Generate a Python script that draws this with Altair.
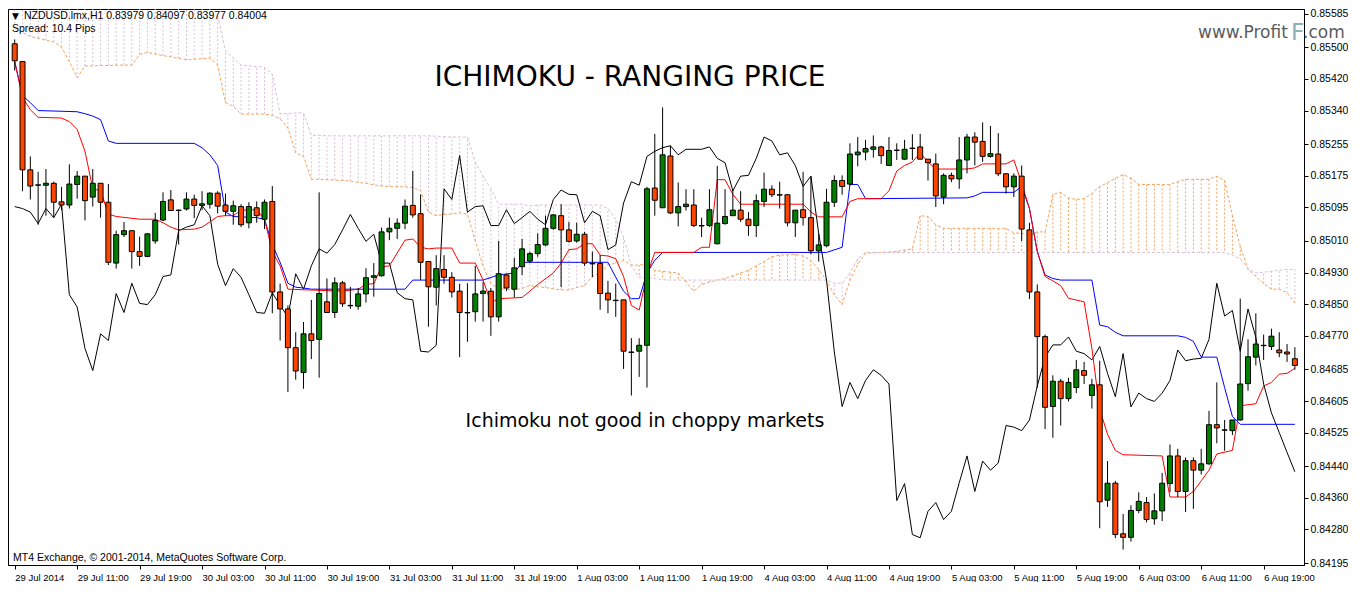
import altair as alt
import pandas as pd

# ---------------- data (NZDUSD H1) ----------------
opens = [0.85509, 0.85464, 0.85190, 0.85152, 0.85151, 0.85156, 0.85109, 0.85101, 0.85153, 0.85174,
         0.85121, 0.85156, 0.85108, 0.84954, 0.85026, 0.85036, 0.84983, 0.84971, 0.85010, 0.85063,
         0.85114, 0.85088, 0.85091, 0.85116, 0.85100, 0.85103, 0.85131, 0.85101, 0.85085, 0.85097,
         0.85056, 0.85094, 0.85065, 0.85110, 0.84881, 0.84838, 0.84740, 0.84677, 0.84775, 0.84761,
         0.84856, 0.84829, 0.84904, 0.84847, 0.84845, 0.84876, 0.84918, 0.84922, 0.85033, 0.85042,
         0.85055, 0.85100, 0.85079, 0.84958, 0.84893, 0.84938, 0.84918, 0.84883, 0.84829, 0.84831,
         0.84877, 0.84883, 0.84818, 0.84924, 0.84888, 0.84945, 0.84959, 0.84978, 0.85000, 0.85042,
         0.85074, 0.85038, 0.85010, 0.85027, 0.84953, 0.84953, 0.84878, 0.84860, 0.84861, 0.84729,
         0.84731, 0.84746, 0.85144, 0.85094, 0.85225, 0.85081, 0.85097, 0.85101, 0.85049, 0.85049,
         0.85003, 0.85054, 0.85074, 0.85088, 0.85065, 0.85049, 0.85110, 0.85141, 0.85127, 0.85127,
         0.85056, 0.85089, 0.85069, 0.84985, 0.84998, 0.85108, 0.85163, 0.85154, 0.85228, 0.85235,
         0.85242, 0.85248, 0.85201, 0.85240, 0.85217, 0.85245, 0.85248, 0.85217, 0.85205, 0.85121,
         0.85176, 0.85167, 0.85215, 0.85273, 0.85262, 0.85224, 0.85230, 0.85180, 0.85147, 0.85174,
         0.85038, 0.84881, 0.84768, 0.84591, 0.84655, 0.84611, 0.84639, 0.84682, 0.84619, 0.84646,
         0.84354, 0.84397, 0.84269, 0.84260, 0.84328, 0.84348, 0.84307, 0.84327, 0.84396, 0.84466,
         0.84376, 0.84454, 0.84430, 0.84446, 0.84545, 0.84532, 0.84530, 0.84557, 0.84649, 0.84716,
         0.84746, 0.84743, 0.84734, 0.84729, 0.84712]
highs = [0.85520, 0.85464, 0.85224, 0.85185, 0.85192, 0.85160, 0.85147, 0.85204, 0.85187, 0.85174,
         0.85192, 0.85156, 0.85154, 0.85036, 0.85058, 0.85036, 0.85021, 0.85030, 0.85081, 0.85133,
         0.85139, 0.85090, 0.85133, 0.85127, 0.85136, 0.85133, 0.85136, 0.85130, 0.85112, 0.85103,
         0.85108, 0.85110, 0.85115, 0.85149, 0.84902, 0.84847, 0.84779, 0.84805, 0.84861, 0.85133,
         0.84915, 0.84918, 0.84909, 0.84894, 0.84891, 0.84941, 0.84954, 0.85044, 0.85069, 0.85067,
         0.85115, 0.85187, 0.85128, 0.84958, 0.84974, 0.84974, 0.84931, 0.84902, 0.84903, 0.84947,
         0.84906, 0.84891, 0.85010, 0.84927, 0.84967, 0.85015, 0.84983, 0.85029, 0.85074, 0.85078,
         0.85103, 0.85058, 0.85056, 0.85033, 0.84983, 0.84974, 0.84909, 0.84902, 0.84861, 0.84764,
         0.84764, 0.85147, 0.85281, 0.85348, 0.85251, 0.85158, 0.85141, 0.85141, 0.85069, 0.85141,
         0.85200, 0.85141, 0.85139, 0.85136, 0.85083, 0.85128, 0.85183, 0.85151, 0.85160, 0.85127,
         0.85088, 0.85185, 0.85174, 0.85029, 0.85142, 0.85176, 0.85176, 0.85257, 0.85273, 0.85266,
         0.85277, 0.85251, 0.85273, 0.85257, 0.85266, 0.85280, 0.85281, 0.85217, 0.85231, 0.85181,
         0.85183, 0.85273, 0.85281, 0.85285, 0.85310, 0.85301, 0.85283, 0.85181, 0.85181, 0.85201,
         0.85056, 0.84900, 0.84773, 0.84670, 0.84661, 0.84664, 0.84709, 0.84704, 0.84661, 0.84707,
         0.84453, 0.84403, 0.84319, 0.84341, 0.84374, 0.84362, 0.84371, 0.84423, 0.84495, 0.84484,
         0.84462, 0.84462, 0.84484, 0.84580, 0.84652, 0.84557, 0.84557, 0.84864, 0.84761, 0.84827,
         0.84773, 0.84788, 0.84779, 0.84749, 0.84741]
lows = [0.85441, 0.85136, 0.85115, 0.85051, 0.85074, 0.85069, 0.85088, 0.85092, 0.85117, 0.85062,
        0.85097, 0.85069, 0.84949, 0.84940, 0.85020, 0.84940, 0.84947, 0.84969, 0.85003, 0.85060,
        0.85087, 0.85001, 0.85087, 0.85068, 0.85088, 0.85092, 0.85080, 0.85074, 0.85051, 0.85045,
        0.85042, 0.85056, 0.85040, 0.84827, 0.84758, 0.84628, 0.84659, 0.84636, 0.84711, 0.84664,
        0.84829, 0.84815, 0.84843, 0.84838, 0.84836, 0.84854, 0.84869, 0.84920, 0.85012, 0.85015,
        0.85040, 0.85069, 0.84911, 0.84793, 0.84847, 0.84902, 0.84867, 0.84716, 0.84755, 0.84806,
        0.84806, 0.84770, 0.84806, 0.84883, 0.84867, 0.84924, 0.84954, 0.84970, 0.84997, 0.85038,
        0.84893, 0.85006, 0.85006, 0.84947, 0.84918, 0.84836, 0.84827, 0.84818, 0.84686, 0.84619,
        0.84666, 0.84639, 0.85074, 0.85094, 0.85078, 0.85047, 0.85087, 0.85045, 0.85020, 0.85045,
        0.85001, 0.85051, 0.85074, 0.85058, 0.85023, 0.85020, 0.85096, 0.85121, 0.85092, 0.85047,
        0.85020, 0.85049, 0.84976, 0.84958, 0.84994, 0.85096, 0.85127, 0.85150, 0.85199, 0.85214,
        0.85221, 0.85205, 0.85201, 0.85215, 0.85215, 0.85215, 0.85217, 0.85163, 0.85096, 0.85103,
        0.85159, 0.85142, 0.85181, 0.85201, 0.85210, 0.85221, 0.85174, 0.85130, 0.85121, 0.85010,
        0.84863, 0.84639, 0.84534, 0.84512, 0.84543, 0.84604, 0.84625, 0.84648, 0.84586, 0.84283,
        0.84337, 0.84258, 0.84229, 0.84249, 0.84321, 0.84298, 0.84292, 0.84301, 0.84374, 0.84362,
        0.84324, 0.84332, 0.84419, 0.84444, 0.84498, 0.84479, 0.84519, 0.84555, 0.84631, 0.84695,
        0.84709, 0.84734, 0.84716, 0.84704, 0.84684]
closes = [0.85466, 0.85190, 0.85149, 0.85151, 0.85156, 0.85108, 0.85101, 0.85154, 0.85174, 0.85112,
          0.85156, 0.85108, 0.84956, 0.85026, 0.85036, 0.84983, 0.84971, 0.85028, 0.85062, 0.85110,
          0.85087, 0.85087, 0.85116, 0.85100, 0.85104, 0.85131, 0.85098, 0.85085, 0.85099, 0.85051,
          0.85097, 0.85074, 0.85108, 0.84881, 0.84838, 0.84740, 0.84681, 0.84775, 0.84758, 0.84877,
          0.84829, 0.84904, 0.84851, 0.84846, 0.84876, 0.84917, 0.84922, 0.85033, 0.85042, 0.85055,
          0.85098, 0.85076, 0.84956, 0.84894, 0.84940, 0.84918, 0.84881, 0.84829, 0.84828, 0.84876,
          0.84883, 0.84818, 0.84927, 0.84891, 0.84942, 0.84990, 0.84978, 0.85001, 0.85042, 0.85076,
          0.85038, 0.85009, 0.85027, 0.84954, 0.84952, 0.84877, 0.84861, 0.84859, 0.84731, 0.84728,
          0.84746, 0.85142, 0.85113, 0.85228, 0.85081, 0.85097, 0.85103, 0.85049, 0.85048, 0.85089,
          0.85055, 0.85072, 0.85088, 0.85065, 0.85049, 0.85112, 0.85141, 0.85127, 0.85126, 0.85056,
          0.85088, 0.85069, 0.84985, 0.85000, 0.85108, 0.85163, 0.85148, 0.85230, 0.85235, 0.85244,
          0.85248, 0.85226, 0.85239, 0.85239, 0.85242, 0.85244, 0.85217, 0.85208, 0.85124, 0.85176,
          0.85167, 0.85215, 0.85273, 0.85260, 0.85224, 0.85231, 0.85180, 0.85147, 0.85174, 0.85040,
          0.84881, 0.84768, 0.84589, 0.84655, 0.84611, 0.84652, 0.84684, 0.84670, 0.84646, 0.84350,
          0.84397, 0.84267, 0.84260, 0.84328, 0.84351, 0.84305, 0.84327, 0.84397, 0.84466, 0.84376,
          0.84454, 0.84430, 0.84446, 0.84545, 0.84537, 0.84531, 0.84557, 0.84648, 0.84717, 0.84749,
          0.84745, 0.84769, 0.84727, 0.84724, 0.84695]

# Chikou span (black), one value per bar
chikou = [0.85097, 0.85092, 0.85083, 0.85054, 0.85092, 0.85069, 0.85103, 0.84874, 0.84843, 0.84738,
          0.84682, 0.84775, 0.84758, 0.84877, 0.84829, 0.84903, 0.84852, 0.84849, 0.84874, 0.84920,
          0.84924, 0.85036, 0.85045, 0.85051, 0.85099, 0.85074, 0.84951, 0.84897, 0.84940, 0.84918,
          0.84874, 0.84829, 0.84827, 0.84879, 0.84847, 0.84818, 0.84927, 0.84888, 0.84947, 0.84990,
          0.84979, 0.85001, 0.85038, 0.85077, 0.85042, 0.85009, 0.85027, 0.84954, 0.84954, 0.84879,
          0.84864, 0.84861, 0.84731, 0.84729, 0.84746, 0.85142, 0.85115, 0.85226, 0.85083, 0.85097,
          0.85099, 0.85049, 0.85049, 0.85089, 0.85054, 0.85069, 0.85085, 0.85065, 0.85051, 0.85115,
          0.85139, 0.85128, 0.85127, 0.85056, 0.85085, 0.85074, 0.84988, 0.85000, 0.85106, 0.85160,
          0.85151, 0.85224, 0.85237, 0.85246, 0.85251, 0.85228, 0.85242, 0.85242, 0.85242, 0.85248,
          0.85219, 0.85208, 0.85137, 0.85174, 0.85176, 0.85219, 0.85273, 0.85263, 0.85228, 0.85233,
          0.85201, 0.85148, 0.85174, 0.85029, 0.84911, 0.84729, 0.84591, 0.84652, 0.84611, 0.84657,
          0.84684, 0.84670, 0.84648, 0.84353, 0.84396, 0.84267, 0.84259, 0.84326, 0.84348, 0.84305,
          0.84326, 0.84398, 0.84466, 0.84376, 0.84453, 0.84430, 0.84448, 0.84543, 0.84539, 0.84530,
          0.84557, 0.84643, 0.84716, 0.84747, 0.84747, 0.84767, 0.84731, 0.84725, 0.84709, 0.84743,
          0.84675, 0.84616, 0.84725, 0.84590, 0.84625, 0.84611, 0.84604, 0.84625, 0.84657, 0.84734,
          0.84707, 0.84711, 0.84713, 0.84761, 0.84903, 0.84820, 0.84834, 0.84731, 0.84838, 0.84766,
          0.84648, 0.84575, 0.84525, 0.84475, 0.84426]

# Senkou span A (sandy brown) and B (thistle), one value per bar
# (span B runs above the visible top for the first bars; 0.85597 = top edge of the chart)
span_a = [0.85550, 0.85538, 0.85527, 0.85523, 0.85518, 0.85514, 0.85500, 0.85464, 0.85423, 0.85453,
          0.85453, 0.85454, 0.85454, 0.85455, 0.85455, 0.85455, 0.85482, 0.85487, 0.85483, 0.85479,
          0.85476, 0.85472, 0.85468, 0.85470, 0.85471, 0.85473, 0.85455, 0.85360, 0.85351, 0.85331,
          0.85331, 0.85331, 0.85331, 0.85328, 0.85319, 0.85296, 0.85233, 0.85224, 0.85166, 0.85166,
          0.85165, 0.85164, 0.85163, 0.85162, 0.85158, 0.85156, 0.85152, 0.85149, 0.85148, 0.85147,
          0.85147, 0.85145, 0.85137, 0.85083, 0.85074, 0.85077, 0.85078, 0.85081, 0.85078, 0.85010,
          0.84947, 0.84902, 0.84890, 0.84888, 0.84886, 0.84890, 0.84897, 0.84894, 0.84892, 0.84889,
          0.84886, 0.84886, 0.84892, 0.84897, 0.84920, 0.84929, 0.84949, 0.84954, 0.84961, 0.84949,
          0.84949, 0.84951, 0.84936, 0.84933, 0.84931, 0.84929, 0.84906, 0.84883, 0.84900, 0.84906,
          0.84911, 0.84915, 0.84922, 0.84929, 0.84936, 0.84947, 0.84958, 0.84970, 0.84974, 0.84975,
          0.84976, 0.84972, 0.84961, 0.84938, 0.84909, 0.84874, 0.84849, 0.84911, 0.84951, 0.84979,
          0.84980, 0.84981, 0.84982, 0.84983, 0.84987, 0.84990, 0.85074, 0.85072, 0.85051, 0.85042,
          0.85042, 0.85042, 0.85042, 0.85042, 0.85042, 0.85042, 0.85042, 0.85042, 0.85030, 0.85030,
          0.85024, 0.85033, 0.85033, 0.85128, 0.85133, 0.85119, 0.85115, 0.85117, 0.85130, 0.85148,
          0.85157, 0.85169, 0.85178, 0.85169, 0.85153, 0.85153, 0.85153, 0.85153, 0.85153, 0.85160,
          0.85166, 0.85166, 0.85166, 0.85166, 0.85174, 0.85163, 0.85074, 0.84997, 0.84938, 0.84920,
          0.84902, 0.84888, 0.84888, 0.84879, 0.84853]
span_b = [0.85597, 0.85597, 0.85597, 0.85597, 0.85597, 0.85597, 0.85597, 0.85597, 0.85597, 0.85597,
          0.85597, 0.85597, 0.85597, 0.85597, 0.85597, 0.85597, 0.85597, 0.85597, 0.85597, 0.85597,
          0.85597, 0.85597, 0.85597, 0.85597, 0.85597, 0.85597, 0.85580, 0.85491, 0.85473, 0.85455,
          0.85453, 0.85451, 0.85450, 0.85432, 0.85332, 0.85333, 0.85334, 0.85334, 0.85278, 0.85277,
          0.85276, 0.85276, 0.85276, 0.85276, 0.85276, 0.85276, 0.85276, 0.85276, 0.85276, 0.85276,
          0.85276, 0.85276, 0.85276, 0.85276, 0.85275, 0.85274, 0.85273, 0.85273, 0.85273, 0.85210,
          0.85174, 0.85142, 0.85103, 0.85103, 0.85103, 0.85103, 0.85099, 0.85101, 0.85101, 0.85101,
          0.85101, 0.85101, 0.85101, 0.85101, 0.85101, 0.85101, 0.85092, 0.85065, 0.85020, 0.84947,
          0.84918, 0.84918, 0.84915, 0.84912, 0.84911, 0.84911, 0.84911, 0.84911, 0.84911, 0.84911,
          0.84911, 0.84911, 0.84911, 0.84911, 0.84911, 0.84911, 0.84911, 0.84911, 0.84911, 0.84911,
          0.84911, 0.84911, 0.84911, 0.84911, 0.84911, 0.84903, 0.84903, 0.84929, 0.84965, 0.84981,
          0.84981, 0.84981, 0.84981, 0.84981, 0.84981, 0.84981, 0.84981, 0.84981, 0.84981, 0.84981,
          0.84981, 0.84981, 0.84981, 0.84981, 0.84981, 0.84981, 0.84981, 0.84981, 0.84981, 0.84981,
          0.84981, 0.84981, 0.84981, 0.84981, 0.84981, 0.84981, 0.84981, 0.84981, 0.84981, 0.84981,
          0.84981, 0.84981, 0.84981, 0.84981, 0.84981, 0.84981, 0.84981, 0.84981, 0.84981, 0.84981,
          0.84981, 0.84981, 0.84981, 0.84981, 0.84981, 0.84981, 0.84974, 0.84965, 0.84940, 0.84929,
          0.84931, 0.84933, 0.84936, 0.84938, 0.84938]

# Tenkan-sen (red) vertices: bar index and value
tenkan_bars = [0, 1, 2, 3, 6, 7, 8, 9, 10, 11, 12, 13, 16, 18, 19, 20, 21, 23, 24, 25, 26, 27, 28, 29, 31,
               32, 33, 34, 35, 42, 44, 45, 46, 47, 48, 50, 51, 52, 53, 54, 56, 57, 59, 60, 61, 62, 65, 66,
               67, 69, 70, 71, 72, 73, 74, 75, 76, 77, 78, 79, 80, 81, 82, 87, 88, 89, 90, 91, 92, 93, 101,
               102, 103, 106, 107, 108, 111, 112, 113, 114, 115, 116, 117, 118, 122, 123, 124, 127, 128,
               129, 130, 131, 132, 133, 134, 135, 137, 138, 139, 140, 141, 142, 147, 148, 150, 151, 152,
               153, 154, 156, 157, 159, 160, 161, 162, 163, 164]
tenkan_vals = [0.85464, 0.85373, 0.85342, 0.85323, 0.85321, 0.85312, 0.85292, 0.85237, 0.85142, 0.85137,
               0.85078, 0.85072, 0.85065, 0.85065, 0.85056, 0.85045, 0.85038, 0.85040, 0.85045, 0.85058,
               0.85072, 0.85074, 0.85074, 0.85088, 0.85089, 0.85065, 0.84983, 0.84947, 0.84888, 0.84883,
               0.84888, 0.84900, 0.84902, 0.84945, 0.84947, 0.85012, 0.85015, 0.84994, 0.84990, 0.84992,
               0.84992, 0.84954, 0.84954, 0.84911, 0.84854, 0.84864, 0.84867, 0.84883, 0.84900, 0.84929,
               0.84954, 0.84988, 0.84990, 0.85003, 0.85003, 0.84974, 0.84972, 0.84965, 0.84920, 0.84847,
               0.84835, 0.84924, 0.84981, 0.84981, 0.84994, 0.84994, 0.85165, 0.85165, 0.85128, 0.85103,
               0.85103, 0.85083, 0.85071, 0.85071, 0.85110, 0.85117, 0.85117, 0.85137, 0.85187, 0.85201,
               0.85210, 0.85233, 0.85210, 0.85192, 0.85192, 0.85195, 0.85205, 0.85205, 0.85215, 0.85156,
               0.85092, 0.84983, 0.84920, 0.84909, 0.84897, 0.84865, 0.84856, 0.84738, 0.84584, 0.84521,
               0.84480, 0.84469, 0.84466, 0.84362, 0.84362, 0.84376, 0.84403, 0.84430, 0.84471, 0.84480,
               0.84593, 0.84598, 0.84643, 0.84652, 0.84673, 0.84675, 0.84688]

# Kijun-sen (blue) vertices
kijun_bars = [0, 1, 2, 3, 8, 9, 10, 11, 12, 13, 23, 24, 25, 26, 27, 28, 31, 32, 33, 34, 35, 36, 37, 38, 50,
              51, 60, 62, 64, 65, 76, 77, 78, 79, 80, 81, 82, 83, 104, 106, 107, 108, 109, 122, 123, 124,
              128, 129, 130, 131, 132, 133, 134, 138, 139, 140, 141, 142, 149, 150, 151, 152, 154, 155,
              156, 157, 164]
kijun_vals = [0.85464, 0.85378, 0.85360, 0.85340, 0.85337, 0.85332, 0.85326, 0.85317, 0.85263, 0.85257,
              0.85257, 0.85246, 0.85228, 0.85201, 0.85083, 0.85072, 0.85069, 0.85065, 0.85001, 0.84956,
              0.84903, 0.84893, 0.84891, 0.84888, 0.84888, 0.84911, 0.84911, 0.84924, 0.84929, 0.84956,
              0.84956, 0.84918, 0.84883, 0.84864, 0.84864, 0.84929, 0.84961, 0.84981, 0.84981, 0.84994,
              0.85153, 0.85153, 0.85117, 0.85119, 0.85124, 0.85133, 0.85133, 0.85148, 0.85092, 0.84983,
              0.84924, 0.84915, 0.84911, 0.84911, 0.84797, 0.84793, 0.84779, 0.84770, 0.84770, 0.84766,
              0.84756, 0.84716, 0.84716, 0.84639, 0.84566, 0.84546, 0.84546]

time_ticks = [0, 8, 16, 24, 32, 40, 48, 56, 64, 72, 80, 88, 96, 104, 112, 120, 128, 136, 144, 152, 160]
time_labels = ["29 Jul 2014", "29 Jul 11:00", "29 Jul 19:00", "30 Jul 03:00", "30 Jul 11:00",
               "30 Jul 19:00", "31 Jul 03:00", "31 Jul 11:00", "31 Jul 19:00", "1 Aug 03:00",
               "1 Aug 11:00", "1 Aug 19:00", "4 Aug 03:00", "4 Aug 11:00", "4 Aug 19:00",
               "5 Aug 03:00", "5 Aug 11:00", "5 Aug 19:00", "6 Aug 03:00", "6 Aug 11:00", "6 Aug 19:00"]
price_ticks = [0.85585, 0.85500, 0.85420, 0.85340, 0.85255, 0.85175, 0.85095, 0.85010, 0.84930,
               0.84850, 0.84770, 0.84685, 0.84605, 0.84525, 0.84440, 0.84360, 0.84280, 0.84195]

# ---------------- chart ----------------
bars = list(range(len(opens)))
df = pd.DataFrame({"bar": bars, "open": opens, "high": highs, "low": lows, "close": closes,
                   "chikou": chikou, "span_a": span_a, "span_b": span_b})
tenkan_df = pd.DataFrame({"bar": tenkan_bars, "val": tenkan_vals})
kijun_df = pd.DataFrame({"bar": kijun_bars, "val": kijun_vals})

W, H = 1296, 556
TOP = 0.85597
FONT = "Liberation Sans"
xs = alt.Scale(domain=[-0.22, 164.53], nice=False, zero=False)
ys = alt.Scale(domain=[0.84190, TOP], nice=False, zero=False)

label_expr = "[" + ",".join("'" + t + "'" for t in time_labels) + "][round(datum.value / 8)]"
x_axis = alt.Axis(values=time_ticks, labelExpr=label_expr, orient="bottom", labelAlign="left",
                  labelBaseline="top", labelPadding=3, tickSize=4, tickColor="black",
                  domainColor="black", labelFont=FONT, labelFontSize=9.5, labelColor="black",
                  grid=False, title=None, labelOverlap=False, labelFlush=False)
y_axis = alt.Axis(values=price_ticks, format=".5f", orient="right", tickSize=4, tickColor="black",
                  domainColor="black", labelFont=FONT, labelFontSize=10.5, labelColor="black",
                  labelPadding=2, grid=False, title=None, labelOverlap=False, labelFlush=False)


def X():
    return alt.X("bar:Q", scale=xs, axis=x_axis)


def Y(field):
    return alt.Y(field, type="quantitative", scale=ys, axis=y_axis)


hatch = alt.Chart(df).mark_rule(strokeDash=[2, 2], strokeWidth=1).encode(
    x=X(), y=Y("span_a"), y2="span_b:Q",
    color=alt.condition("datum.span_a >= datum.span_b", alt.value("#f4a460"), alt.value("#d8bfd8")),
)
line_a = alt.Chart(df).mark_line(color="#f4a460", strokeDash=[3, 2], strokeWidth=1).encode(
    x=X(), y=Y("span_a"))
line_b = alt.Chart(df).transform_filter(f"datum.span_b < {TOP}").mark_line(
    color="#d8bfd8", strokeDash=[3, 2], strokeWidth=1).encode(x=X(), y=Y("span_b"))
tenkan = alt.Chart(tenkan_df).mark_line(color="#ff0000", strokeWidth=1).encode(x=X(), y=Y("val"))
kijun = alt.Chart(kijun_df).mark_line(color="#0000ff", strokeWidth=1).encode(x=X(), y=Y("val"))
chik = alt.Chart(df).mark_line(color="#000000", strokeWidth=1).encode(x=X(), y=Y("chikou"))
wicks = alt.Chart(df).mark_rule(color="black", strokeWidth=1).encode(x=X(), y=Y("low"), y2="high:Q")
bodies = alt.Chart(df).mark_bar(size=5, stroke="black", strokeWidth=1).encode(
    x=X(), y=Y("open"), y2="close:Q",
    fill=alt.condition("datum.close >= datum.open", alt.value("#008000"), alt.value("#ff4500")),
)


def label(text, x, y, size, color="black", font=FONT, align="left"):
    return alt.Chart(pd.DataFrame({"txt": [text]})).mark_text(
        align=align, baseline="middle", fontSize=size, font=font, color=color, clip=False
    ).encode(x=alt.value(x), y=alt.value(y), text=alt.Text("txt:N"))


texts = [
    label("▼", 4, 7, 9, font="DejaVu Sans"),
    label("NZDUSD.lmx,H1  0.83979 0.84097 0.83977 0.84004", 16, 7, 10.5),
    label("Spread: 10.4 Pips", 4, 20, 10.5),
    label("MT4 Exchange, © 2001-2014, MetaQuotes Software Corp.", 5, 549, 10.5),
    label("ICHIMOKU - RANGING PRICE", 622, 69, 28, font="DejaVu Sans", align="center"),
    label("Ichimoku not good in choppy markets", 637, 412, 19, font="DejaVu Sans", align="center"),
    label("www.Profit", 1190, 24, 17, color="#5c5c5c", font="DejaVu Sans"),
    label("F", 1283, 24, 23, color="#8fb0b8", font="DejaVu Sans"),
    label(".com", 1295, 24, 17, color="#5c5c5c", font="DejaVu Sans"),
]

chart = alt.layer(hatch, line_a, line_b, chik, kijun, tenkan, wicks, bodies, *texts).properties(
    width=W, height=H, background="white",
    padding={"left": 0, "top": 0, "right": 0, "bottom": 0},
).configure_view(stroke="black", strokeWidth=1, clip=False).configure_axis(domainWidth=1, tickWidth=1)

chart.save("out.html", embed_options={"renderer": "svg", "actions": False})
